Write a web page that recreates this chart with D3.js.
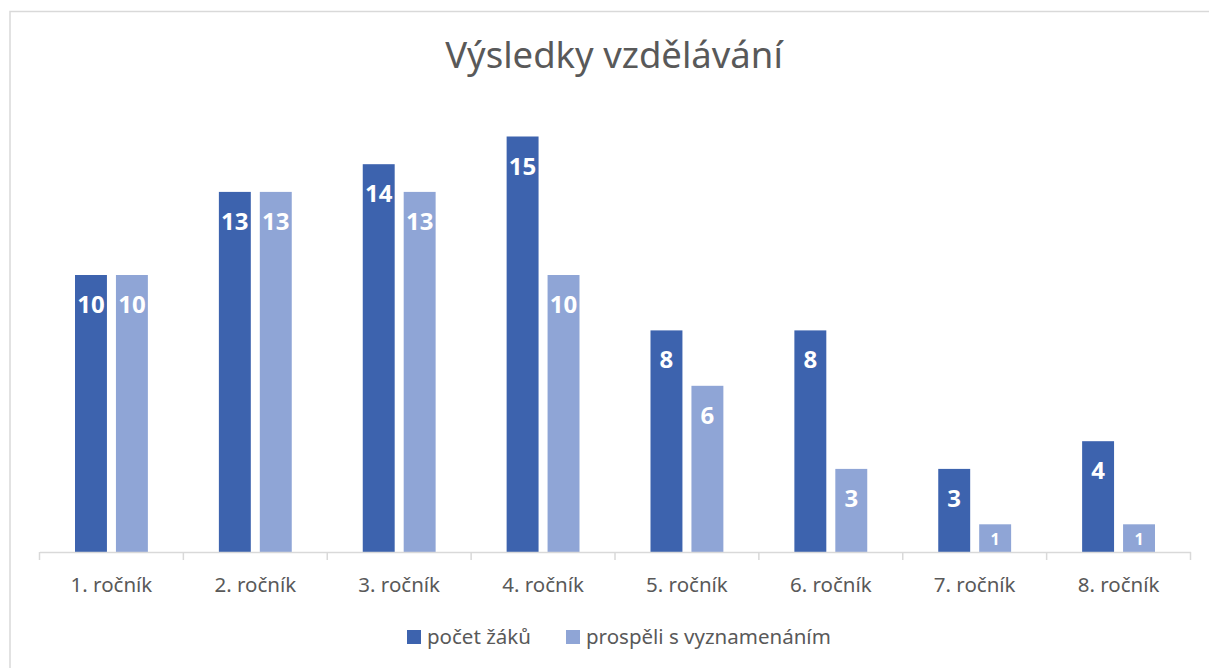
<!DOCTYPE html>
<html>
<head>
<meta charset="utf-8">
<script src="https://cdn.jsdelivr.net/npm/d3@7"></script>
<style>
  body { margin: 0; background: #fff; }
  svg { display: block; font-family: "Noto Sans", "Open Sans", sans-serif; }
</style>
</head>
<body>
<svg id="chart" width="1209" height="668"></svg>
<script>
const categories = ['1. ročník', '2. ročník', '3. ročník', '4. ročník', '5. ročník', '6. ročník', '7. ročník', '8. ročník'];
const seriesNames = ['počet žáků', 'prospěli s vyznamenáním'];
const pocetZaku = [10, 13, 14, 15, 8, 8, 3, 4];
const vyznamenani = [10, 13, 13, 10, 6, 3, 1, 1];
const colors = ['#3D63AE', '#8FA5D6'];

const svg = d3.select('#chart');

// chart area border (runs off the right and bottom edge like the original)
svg.append('rect')
  .attr('x', 10).attr('y', 11.5).attr('width', 1220).attr('height', 680)
  .attr('fill', 'none').attr('stroke', '#D9D9D9').attr('stroke-width', 1.5);

svg.append('text')
  .attr('x', 614).attr('y', 68)
  .attr('text-anchor', 'middle')
  .attr('font-size', 36.5)
  .attr('fill', '#595959')
  .text('Výsledky vzdělávání');

const x0 = d3.scaleBand().domain(categories).range([39.5, 1190.5]).paddingInner(0).paddingOuter(0);
const x1 = d3.scaleBand().domain([0, 1]).range([35.5, x0.bandwidth() - 35.5]).paddingInner(0.22);
const y = d3.scaleLinear().domain([0, 16]).range([552, 108.8]);

const rows = categories.map((c, i) => ({ cat: c, vals: [pocetZaku[i], vyznamenani[i]] }));

const groups = svg.append('g').selectAll('g').data(rows).enter().append('g')
  .attr('transform', d => `translate(${x0(d.cat)},0)`);

groups.selectAll('rect').data(d => d.vals).enter().append('rect')
  .attr('x', (d, i) => x1(i))
  .attr('y', d => y(d))
  .attr('width', x1.bandwidth())
  .attr('height', d => y(0) - y(d))
  .attr('fill', (d, i) => colors[i]);

groups.selectAll('text').data(d => d.vals).enter().append('text')
  .attr('x', (d, i) => x1(i) + x1.bandwidth() / 2)
  .attr('y', d => d > 1 ? y(d) + 38 : y(d) + 21)
  .attr('text-anchor', 'middle')
  .attr('font-weight', 'bold')
  .attr('font-size', d => d > 1 ? 24 : 16)
  .attr('fill', '#fff')
  .text(d => d);

// category axis
const axis = svg.append('g').attr('transform', `translate(0,${y(0)})`)
  .call(d3.axisBottom(x0).tickSize(0).tickPadding(25));
axis.select('.domain').attr('stroke', '#D9D9D9').attr('stroke-width', 1.5);
axis.selectAll('text').attr('font-size', 20.5).attr('fill', '#595959').attr('font-family', '"Noto Sans", sans-serif');

const tickPos = categories.map(c => x0(c)).concat([x0.range()[1]]);
svg.append('g').selectAll('line').data(tickPos).enter().append('line')
  .attr('x1', d => d).attr('x2', d => d)
  .attr('y1', y(0)).attr('y2', y(0) + 8)
  .attr('stroke', '#D9D9D9').attr('stroke-width', 1.5);

// legend
const legendX = [407, 566];
const legend = svg.append('g').selectAll('g').data(seriesNames).enter().append('g')
  .attr('transform', (d, i) => `translate(${legendX[i]},630)`);
legend.append('rect').attr('width', 14).attr('height', 14).attr('fill', (d, i) => colors[i]);
legend.append('text').attr('x', 20).attr('y', 14)
  .attr('font-size', 20.5).attr('fill', '#595959').text(d => d);
</script>
</body>
</html>
